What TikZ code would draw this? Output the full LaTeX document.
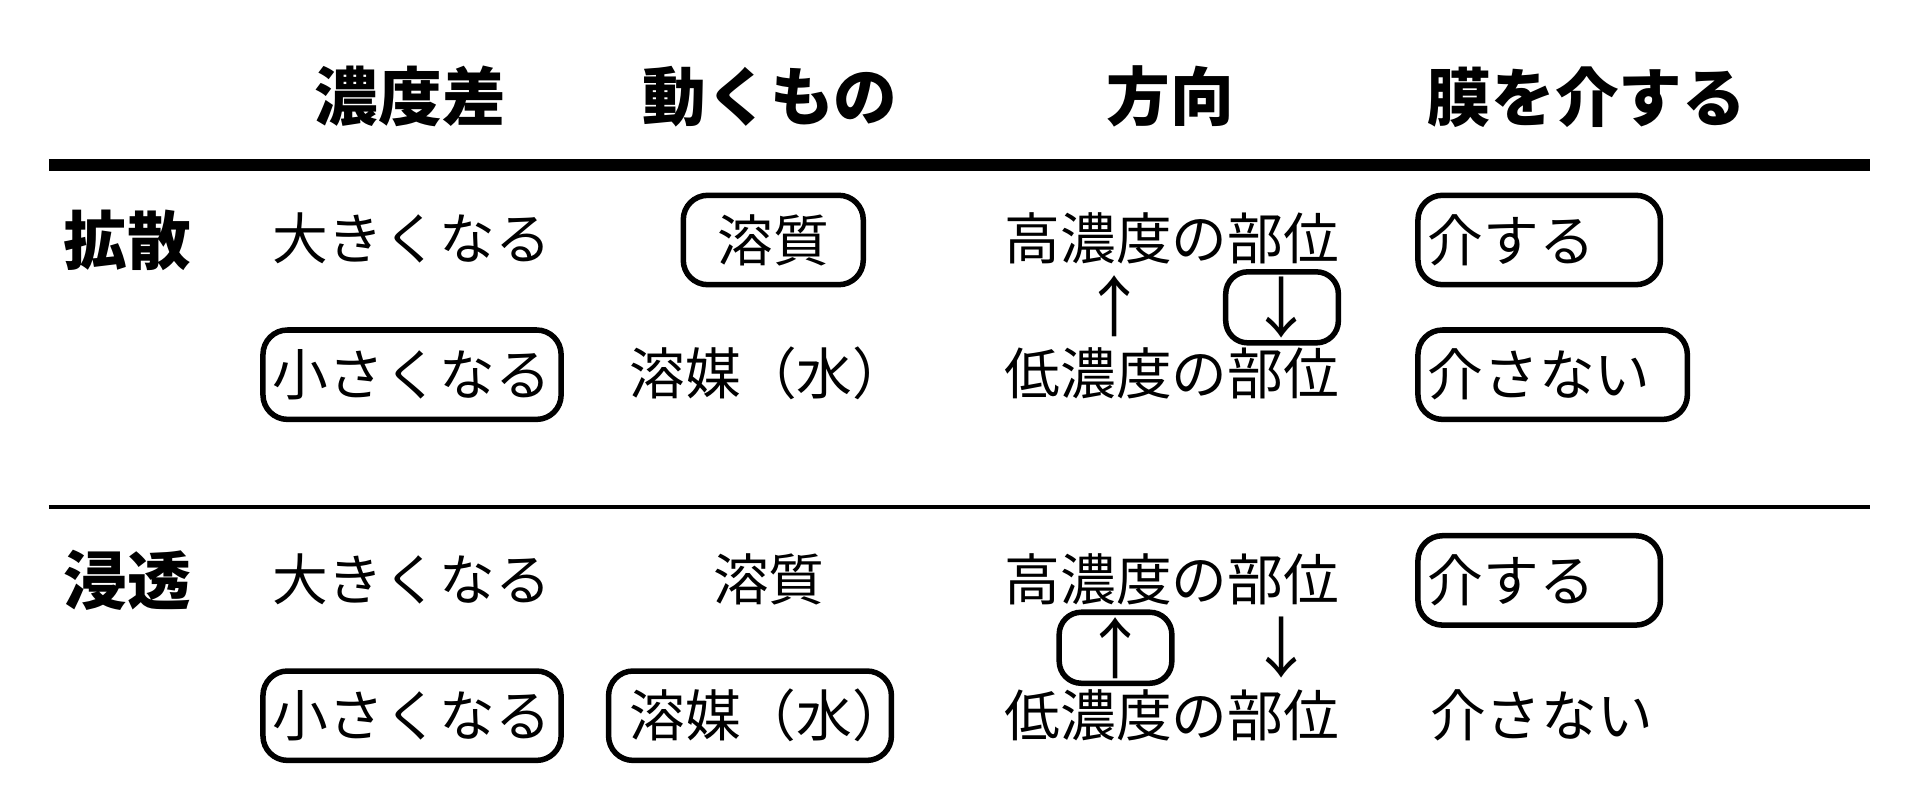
\documentclass[tikz,border=0pt]{standalone}
\usepackage{fontspec}
\setmainfont{Noto Sans CJK JP}
\begin{document}
\begin{tikzpicture}[x=0.5pt,y=-0.5pt,
  every node/.style={font=\fontsize{22.75pt}{26pt}\selectfont, inner sep=0pt},
  head/.style={font=\fontsize{26pt}{30pt}\selectfont\bfseries},
  arrowtxt/.style={font=\fontsize{27pt}{30pt}\selectfont},
  pill/.style={draw, line width=2.25pt, rounded corners=10pt, minimum height=36.5pt, inner xsep=4pt},
  smallpill/.style={pill, minimum width=46pt, minimum height=29pt, rounded corners=9pt, inner xsep=0pt},
  thickrule/.style={line width=4.75pt},
  thinrule/.style={line width=1.8pt}]
\useasboundingbox (0,0) rectangle (1568,652);
% headers
\node[head] (h1) at (335,79) {濃度差};
\node[head] (h2) at (629,79) {動くもの};
\node[head] (h3) at (956,79) {方向};
\node[head] (h4) at (1296,79) {膜を介する};
\coordinate (tl) at (40,135);
\coordinate (tr) at (1527,135);
\draw[thickrule] (tl) -- (tr);
% diffusion
\node[head] (dl) at (104,196) {拡散};
\node (d11) at (336,195) {大きくなる};
\node[pill, minimum width=73.5pt] (d12) at (631.5,196) {溶質};
\node (d13) at (957,195) {高濃度の部位};
\node[pill, text width=91pt, align=left] (d14) at (1257,196) {介する};
\node[arrowtxt] (du) at (910,250) {↑};
\node[smallpill, arrowtxt] (dd) at (1047,251) {↓};
\node[pill, minimum width=121.5pt] (d21) at (336.5,306) {小さくなる};
\node (d22) at (628,305) {溶媒（水）};
\node (d23) at (957,305) {低濃度の部位};
\node[pill, text width=102pt, align=left] (d24) at (1268,306) {介さない};
% thin rule
\coordinate (ml) at (40,414);
\coordinate (mr) at (1527,414);
\draw[thinrule] (ml) -- (mr);
% osmosis
\node[head] (ol) at (104,474) {浸透};
\node (o11) at (336,473) {大きくなる};
\node (o12) at (628,473) {溶質};
\node (o13) at (957,473) {高濃度の部位};
\node[pill, text width=91pt, align=left] (o14) at (1257,474) {介する};
\node[smallpill, arrowtxt] (ou) at (911,529) {↑};
\node[arrowtxt] (od) at (1047,529) {↓};
\node[pill, minimum width=121.5pt] (o21) at (336.5,584.5) {小さくなる};
\node[pill, minimum width=115.5pt] (o22) at (612.5,584.5) {\makebox[98.5pt][l]{溶媒（水）}};
\node (o23) at (957,584) {低濃度の部位};
\node (o24) at (1259,584) {介さない};
\end{tikzpicture}
\end{document}
